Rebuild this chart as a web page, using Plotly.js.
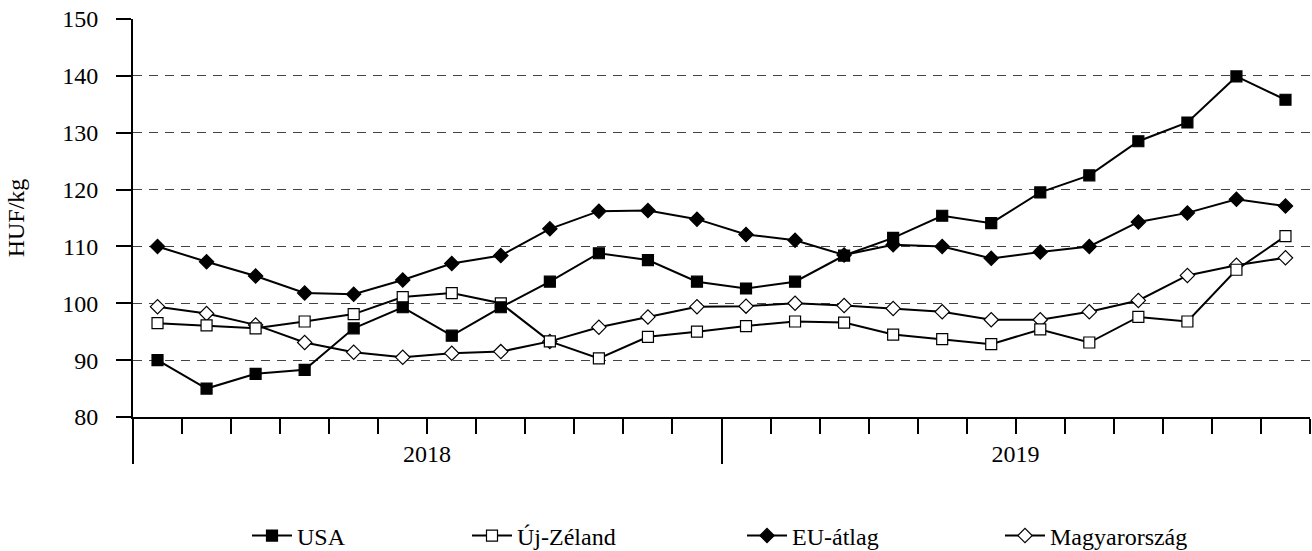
<!DOCTYPE html>
<html><head><meta charset="utf-8">
<script src="https://cdn.plot.ly/plotly-3.0.1.min.js"></script>
<style>html,body{margin:0;padding:0;background:#fff}</style>
</head><body>
<div id="chart" style="width:1312px;height:551px"></div>
<script>
const months = ['2018-01','2018-02','2018-03','2018-04','2018-05','2018-06','2018-07','2018-08','2018-09','2018-10','2018-11','2018-12',
                '2019-01','2019-02','2019-03','2019-04','2019-05','2019-06','2019-07','2019-08','2019-09','2019-10','2019-11','2019-12'];
const years = ['2018','2019'];
const usa = [90.0,85.0,87.6,88.3,95.6,99.3,94.3,99.3,103.8,108.8,107.6,103.8,102.6,103.8,108.4,111.5,115.4,114.1,119.5,122.5,128.5,131.8,139.9,135.8];
const ujZeland = [96.5,96.1,95.6,96.8,98.1,101.1,101.8,100.0,93.3,90.3,94.1,95.0,96.0,96.8,96.6,94.5,93.7,92.8,95.4,93.1,97.6,96.8,105.9,111.8];
const euAtlag = [110.0,107.3,104.8,101.8,101.6,104.1,107.0,108.4,113.1,116.2,116.3,114.8,112.1,111.1,108.5,110.3,110.0,107.9,109.0,110.0,114.3,115.9,118.3,117.1];
const magyar = [99.4,98.2,96.2,93.1,91.4,90.5,91.2,91.5,93.3,95.8,97.6,99.4,99.5,100.0,99.6,99.1,98.5,97.1,97.1,98.5,100.5,104.9,106.7,108.0];
const yTicks = [80,90,100,110,120,130,140,150];

const xi = months.map((m, i) => i);
const n = months.length;
const perYear = n / years.length;
const monthBounds = xi.map(i => i - 0.5).concat([n - 0.5]);
const yearBounds = [-0.5].concat(years.map((y, k) => (k + 1) * perYear - 0.5));
const yearText = years.concat(['']);

const FONT = 'Liberation Serif';
const FS = 24;
const lineStyle = {color: '#000', width: 2};

function tr(name, y, symbol, fill, legend) {
  return {
    type: 'scatter', mode: 'lines+markers', name: name, x: xi, y: y,
    line: lineStyle,
    marker: {symbol: symbol, size: 11, color: fill, line: {color: '#000', width: 1.2}},
    legend: legend, hoverinfo: 'skip'
  };
}

const data = [
  tr('Magyarország', magyar, 'diamond', '#fff', 'legend4'),
  tr('EU-átlag', euAtlag, 'diamond', '#000', 'legend3'),
  tr('Új-Zéland', ujZeland, 'square', '#fff', 'legend2'),
  tr('USA', usa, 'square', '#000', 'legend')
];

const W = 1312, H = 551, L = 133, R = 1310, T = 19, B = 417;
const yearPx = Math.round((R - L) / n * perYear / 2);
function leg(xc) {
  return {xref: 'container', yref: 'container', x: xc / W, xanchor: 'left', y: (H - 536) / H, yanchor: 'middle',
    orientation: 'h', font: {family: FONT, size: FS, color: '#000'}, bgcolor: 'rgba(0,0,0,0)', borderwidth: 0, itemwidth: 40};
}

const layout = {
  width: W, height: H,
  margin: {l: L, r: W - R, t: T, b: H - B, pad: 0},
  paper_bgcolor: '#fff', plot_bgcolor: '#fff',
  font: {family: FONT, size: FS, color: '#000'},
  showlegend: true,
  legend: leg(247), legend2: leg(467), legend3: leg(742), legend4: leg(1000),
  xaxis: {
    range: [-0.5, n - 0.5], tickmode: 'array', tickvals: yearBounds, ticktext: yearText,
    ticks: 'outside', ticklen: 45, tickwidth: 2, tickcolor: '#000',
    ticklabelshift: yearPx, ticklabelstandoff: -31,
    tickfont: {family: FONT, size: FS, color: '#000'},
    minor: {tickmode: 'array', tickvals: monthBounds, ticks: 'outside', ticklen: 15, tickwidth: 2, tickcolor: '#000', showgrid: false},
    showline: true, linecolor: '#000', linewidth: 2,
    showgrid: false, zeroline: false, fixedrange: true
  },
  yaxis: {
    range: [80, 150], tickmode: 'array', tickvals: yTicks,
    ticks: 'outside', ticklen: 15, tickwidth: 2, tickcolor: '#000', ticklabelstandoff: 13,
    tickfont: {family: FONT, size: FS, color: '#000'},
    showline: true, linecolor: '#000', linewidth: 2,
    showgrid: true, gridcolor: '#444', gridwidth: 1, griddash: '9px,7px',
    zeroline: false, automargin: true,
    title: {text: 'HUF/kg', standoff: 31, font: {family: FONT, size: FS, color: '#000'}}
  }
};

Plotly.newPlot('chart', data, layout, {staticPlot: true, displayModeBar: false});
</script>
</body></html>
